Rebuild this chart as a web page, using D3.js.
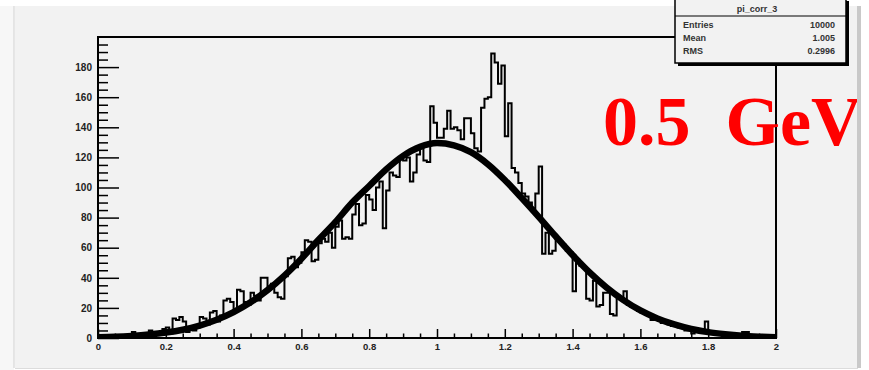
<!DOCTYPE html>
<html><head><meta charset="utf-8">
<script src="https://cdn.jsdelivr.net/npm/d3@7"></script>
<style>html,body{margin:0;padding:0;background:#fff;}svg{display:block;}</style>
</head><body>
<svg id="c" width="869" height="370"></svg>
<script>
// ---- data ----
const binLow = 0, binWidth = 0.01;
const counts = [
 1,0,1,1,0,1,2,1,1,2,
 4,2,1,3,2,5,3,2,4,6,
 7,3,13,12,14,11,4,6,5,7,
 14,13,9,17,18,11,15,25,26,24,
 19,32,31,24,22,30,28,25,40,40,
 33,36,30,27,26,41,53,54,47,50,
 57,65,64,51,52,63,66,64,70,60,
 74,78,66,67,66,82,89,75,76,95,
 92,85,100,104,73,98,110,108,107,120,
 118,120,104,110,122,126,118,117,154,143,
 133,133,139,151,139,140,138,132,146,146,
 136,126,124,153,159,160,189,183,169,181,
 134,156,113,110,103,96,94,90,86,96,
 114,56,70,56,58,66,64,62,58,57,
 31,52,48,47,26,25,38,21,22,30,
 30,16,15,28,26,31,22,21,20,18,
 17,16,15,12,14,13,10,10,9,8,
 9,7,8,5,6,3,5,4,6,11,
 3,3,3,2,3,3,2,1,2,2,
 4,4,1,1,1,0,1,0,0,1
];
const fitX = [0,0.05,0.1,0.15,0.2,0.25,0.3,0.35,0.4,0.45,0.5,0.55,0.6,0.65,0.7,0.75,0.8,0.85,0.9,0.95,1.0,1.05,1.1,1.15,1.2,1.25,1.3,1.35,1.4,1.45,1.5,1.55,1.6,1.65,1.7,1.75,1.8,1.85,1.9,1.95,2.0];
const fitY = [0.5,0.8,1.4,2.3,3.6,5.5,8.3,12.1,17.2,23.7,31.8,41.5,52.7,65.1,77,90,101,112,121,127,129.5,128,123.5,115.5,105,93,80.5,67.6,55.1,43.6,33.6,25.2,18.3,13.0,9.0,6.0,3.9,2.5,1.5,0.9,0.5];
const xTicks = [0,0.2,0.4,0.6,0.8,1,1.2,1.4,1.6,1.8,2];
const yTicks = [0,20,40,60,80,100,120,140,160,180];
const statsTitle = "pi_corr_3";
const statsNames = ["Entries","Mean","RMS"];
const statsValues = ["10000","1.005","0.2996"];
const label = "0.5\u00a0\u00a0GeV";

// ---- drawing ----
const svg = d3.select("#c");
const X0=98, X1=776, Y0=338, Y1=37;
const x = d3.scaleLinear().domain([0,2]).range([X0,X1]);
const y = d3.scaleLinear().domain([0,200]).range([Y0,Y1]);

// canvas background
svg.append("rect").attr("x",0).attr("y",0).attr("width",869).attr("height",370).attr("fill","#ffffff");
svg.append("rect").attr("x",0).attr("y",6).attr("width",14).attr("height",364).attr("fill","#f7f7f7");
svg.append("rect").attr("x",15).attr("y",6).attr("width",843).attr("height",362).attr("fill","#f2f2f2");
svg.append("line").attr("x1",14).attr("x2",14).attr("y1",6).attr("y2",368).attr("stroke","#dedede").attr("stroke-width",1.5);
svg.append("line").attr("x1",15).attr("x2",858).attr("y1",368.5).attr("y2",368.5).attr("stroke","#dcdcdc").attr("stroke-width",1);

svg.append("defs").append("clipPath").attr("id","pc").append("rect")
  .attr("x",X0).attr("y",Y1).attr("width",X1-X0).attr("height",Y0-Y1);

// histogram step outline
const pts = [[binLow, 0]];
counts.forEach((v,i)=>{ const a=binLow+i*binWidth; pts.push([a,v]); pts.push([a+binWidth,v]); });
pts.push([binLow+counts.length*binWidth,0]);
const g = svg.append("g").attr("clip-path","url(#pc)");
g.append("path").attr("d", d3.line().x(d=>x(d[0])).y(d=>y(d[1]))(pts))
  .attr("fill","none").attr("stroke","#000").attr("stroke-width",2);

// fit curve
g.append("path").attr("d", d3.line().x((d,i)=>x(fitX[i])).y(d=>y(d)).curve(d3.curveMonotoneX)(fitY))
  .attr("fill","none").attr("stroke","#000").attr("stroke-width",6.5).attr("stroke-linejoin","round");

// frame
svg.append("rect").attr("x",X0).attr("y",Y1).attr("width",X1-X0).attr("height",Y0-Y1)
  .attr("fill","none").attr("stroke","#000").attr("stroke-width",2);

const font = "'Liberation Sans', Arial, sans-serif";
// x axis
const xMinor = d3.range(0,2.0001,0.05).filter(v=>Math.abs(v*5-Math.round(v*5))>1e-6);
svg.append("g").attr("transform",`translate(0,${Y0})`)
  .call(d3.axisBottom(x).tickValues(xMinor).tickSize(-4.5).tickFormat(""))
  .call(a=>a.select(".domain").remove()).selectAll("line").attr("stroke-width",1.5);
const xa = svg.append("g").attr("transform",`translate(0,${Y0})`)
  .call(d3.axisBottom(x).tickValues(xTicks).tickSize(-9).tickPadding(5).tickFormat(d3.format("")));
xa.select(".domain").remove();
xa.selectAll("line").attr("stroke-width",1.5);
xa.selectAll("text").attr("font-family",font).attr("font-size",9.5).attr("font-weight","bold").attr("fill","#222").attr("dy","0.71em");

// y axis
const yMinor = d3.range(0,200,5).filter(v=>v%20!==0);
svg.append("g").attr("transform",`translate(${X0},0)`)
  .call(d3.axisLeft(y).tickValues(yMinor).tickSize(-10).tickFormat(""))
  .call(a=>a.select(".domain").remove()).selectAll("line").attr("stroke-width",1.5);
const ya = svg.append("g").attr("transform",`translate(${X0},0)`)
  .call(d3.axisLeft(y).tickValues(yTicks).tickSize(-21).tickPadding(6).tickFormat(d3.format("")));
ya.select(".domain").remove();
ya.selectAll("line").attr("stroke-width",1.5);
ya.selectAll("text").attr("font-family",font).attr("font-size",10).attr("font-weight","bold").attr("fill","#222");

// stats box
const bx=675, by=-2, bw=171, bh=65;
svg.append("rect").attr("x",bx+3).attr("y",by+3).attr("width",bw).attr("height",bh).attr("fill","#000");
svg.append("rect").attr("x",bx).attr("y",by).attr("width",bw).attr("height",bh).attr("fill","#f2f2f2").attr("stroke","#000").attr("stroke-width",1.5);
svg.append("line").attr("x1",bx).attr("x2",bx+bw).attr("y1",16).attr("y2",16).attr("stroke","#000").attr("stroke-width",1.2);
svg.append("text").attr("x",757).attr("y",9).attr("text-anchor","middle").attr("dominant-baseline","central")
  .attr("font-family",font).attr("font-size",9).attr("font-weight","bold").attr("fill","#333").text(statsTitle);
statsNames.forEach((n,i)=>{
  const yy = 24.5+i*13;
  svg.append("text").attr("x",683).attr("y",yy).attr("dominant-baseline","central")
    .attr("font-family",font).attr("font-size",9).attr("font-weight","bold").attr("fill","#333").text(n);
  svg.append("text").attr("x",835).attr("y",yy).attr("text-anchor","end").attr("dominant-baseline","central")
    .attr("font-family",font).attr("font-size",9).attr("font-weight","bold").attr("fill","#333").text(statsValues[i]);
});

// label
svg.append("text").attr("x",603).attr("y",145)
  .attr("font-family","'Liberation Serif','Times New Roman',serif").attr("font-weight","bold")
  .attr("font-size",70).attr("fill","#ff0000").text(label);

// right border bar
svg.append("rect").attr("x",858).attr("y",0).attr("width",11).attr("height",370).attr("fill","#ffffff");
svg.append("rect").attr("x",857).attr("y",6).attr("width",4).attr("height",362).attr("fill","#c9c9c9");
</script>
</body></html>
